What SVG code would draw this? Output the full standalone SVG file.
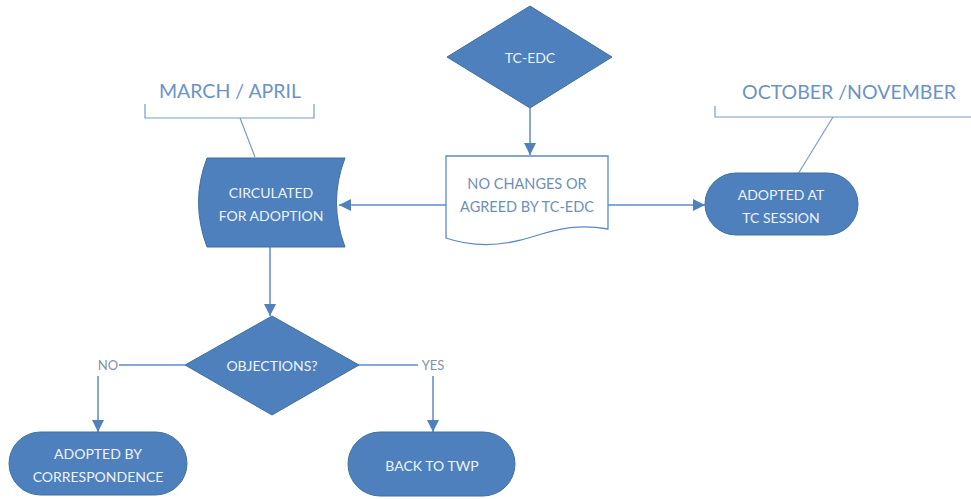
<svg xmlns="http://www.w3.org/2000/svg" width="971" height="499" viewBox="0 0 971 499">
<style>
.node{fill:#4d80bd;stroke:#41719c;stroke-width:1}
.doc{fill:#ffffff;stroke:#5a8ac6;stroke-width:1.3}
.nt{font-family:Lato,"Open Sans",sans-serif;font-size:14px;fill:#eef3fa;text-anchor:middle;dominant-baseline:central}
.dt{font-family:Lato,"Open Sans",sans-serif;font-size:14.5px;fill:#6f8fb8;text-anchor:middle;dominant-baseline:central}
.lab{font-family:Lato,"Open Sans",sans-serif;font-size:19.5px;fill:#6b93c6;text-anchor:middle;dominant-baseline:central}
.yn{font-family:Lato,"Open Sans",sans-serif;font-size:13px;fill:#7d93b0;text-anchor:middle;dominant-baseline:central}
.conn{fill:none;stroke:#5b8cc8;stroke-width:1.5}
.br{fill:none;stroke:#7a9cc8;stroke-width:1.2}
</style>
<defs>
<marker id="arr" viewBox="0 0 12 12" refX="12" refY="6" markerWidth="12" markerHeight="12" markerUnits="userSpaceOnUse" orient="auto">
<path d="M0,0 L12,6 L0,12 Z" fill="#4f81bd"/>
</marker>
</defs>
<g id="connectors">
<line class="conn" x1="530" y1="108" x2="530" y2="155" marker-end="url(#arr)"/>
<line class="conn" x1="446" y1="205" x2="339" y2="205" marker-end="url(#arr)"/>
<line class="conn" x1="608" y1="205" x2="705" y2="205" marker-end="url(#arr)"/>
<line class="conn" x1="270" y1="247" x2="270" y2="316" marker-end="url(#arr)"/>
<line class="conn" x1="185" y1="365" x2="119" y2="365"/>
<line class="conn" x1="98" y1="376" x2="98" y2="432" marker-end="url(#arr)"/>
<line class="conn" x1="358" y1="365" x2="418" y2="365"/>
<line class="conn" x1="433" y1="376" x2="433" y2="432" marker-end="url(#arr)"/>
</g>
<g id="annot-march">
<path class="br" d="M145,104 V118 H314 V104"/>
<line class="br" x1="240" y1="118" x2="255" y2="157"/>
<text class="lab" x="230" y="90">MARCH / APRIL</text>
</g>
<g id="annot-october">
<path class="br" d="M715,106 V117 H971"/>
<line class="br" x1="833" y1="117" x2="798" y2="174"/>
<text class="lab" x="849" y="91">OCTOBER /NOVEMBER</text>
</g>
<g id="tc-edc">
<polygon class="node" points="530,6 612,57 530,108 447,57"/>
<text class="nt" x="530" y="57">TC-EDC</text>
</g>
<g id="no-changes">
<path class="doc" d="M446,156 H608 V229 C580,224 560,228 535,236 C505,246 475,248 446,238 Z"/>
<text class="dt" x="527" y="183">NO CHANGES OR</text>
<text class="dt" x="527" y="206">AGREED BY TC-EDC</text>
</g>
<g id="circulated">
<path class="node" d="M207,158 H345 Q328,202 345,247 H207 Q190,202 207,158 Z"/>
<text class="nt" x="271" y="192">CIRCULATED</text>
<text class="nt" x="271" y="215">FOR ADOPTION</text>
</g>
<g id="adopted-tc">
<rect class="node" x="705" y="173" width="153" height="62" rx="31"/>
<text class="nt" x="781" y="194">ADOPTED AT</text>
<text class="nt" x="781" y="217">TC SESSION</text>
</g>
<g id="objections">
<polygon class="node" points="272,316 359,365 272,415 185,365"/>
<text class="nt" x="272" y="365">OBJECTIONS?</text>
</g>
<text class="yn" x="108" y="365">NO</text>
<text class="yn" x="433" y="365">YES</text>
<g id="adopted-corr">
<rect class="node" x="9" y="432" width="178" height="63" rx="31.5"/>
<text class="nt" x="98" y="453">ADOPTED BY</text>
<text class="nt" x="98" y="476">CORRESPONDENCE</text>
</g>
<g id="back-twp">
<rect class="node" x="348" y="432" width="167" height="64" rx="32"/>
<text class="nt" x="432" y="465">BACK TO TWP</text>
</g>
</svg>
